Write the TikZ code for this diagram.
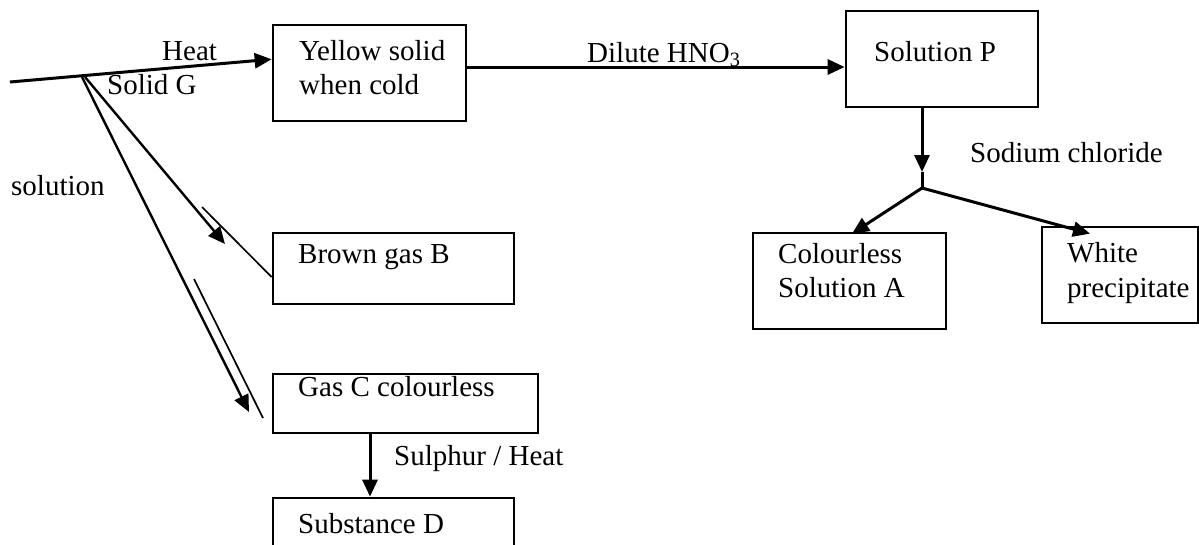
\documentclass[tikz,border=0pt]{standalone}
\usepackage{fontspec}
\setmainfont{Liberation Serif}
\usetikzlibrary{arrows.meta}
\begin{document}
\begin{tikzpicture}[x=1pt,y=-1pt,
  every node/.style={font=\fontsize{29}{34}\selectfont},
  box/.style={draw,line width=2.7pt,inner sep=0pt},
  lbl/.style={anchor=base west,inner sep=0pt},
  arr/.style={line width=3pt,-{Triangle[length=17pt,width=15pt]}},
  thin/.style={line width=1.7pt}]
\clip (0,0) rectangle (1199,544);
% boxes
\node[box,minimum width=193pt,minimum height=96pt] (yellow) at (369.5,73) {};
\node[box,minimum width=192pt,minimum height=96pt] (solp) at (942,59) {};
\node[box,minimum width=193pt,minimum height=96pt] (cola) at (849.5,281) {};
\node[box,minimum width=156pt,minimum height=96pt] (white) at (1120,275) {};
\node[box,minimum width=241pt,minimum height=71pt] (brown) at (393.5,268.5) {};
\node[box,minimum width=265pt,minimum height=59pt] (gasc) at (405.5,403.5) {};
\node[box,minimum width=241pt,minimum height=62pt] (substd) at (393.5,529) {};
% texts
\node[lbl] (yellowt) at (299,60) {Yellow solid};
\node[lbl] (yellowb) at (299,94) {when cold};
\node[lbl] (solpt) at (874,61) {Solution P};
\node[lbl] (colat) at (778,263) {Colourless};
\node[lbl] (colab) at (778,297) {Solution A};
\node[lbl] (whitet) at (1067,262) {White};
\node[lbl] (whiteb) at (1067,297) {precipitate};
\node[lbl] (brownt) at (298,263) {Brown gas B};
\node[lbl] (gasct) at (298,396) {Gas C colourless};
\node[lbl] (substdt) at (298,533) {Substance D};
\node[lbl] (heat) at (162,60) {Heat};
\node[lbl] (solidg) at (107,94) {Solid G};
\node[lbl] (soln) at (11,195) {solution};
\node[lbl] (hno) at (587,62) {Dilute HNO\textsubscript{3}};
\node[lbl] (nacl) at (970,162) {Sodium chloride};
\node[lbl] (sulph) at (394,465) {Sulphur / Heat};
% solid G and its products
\coordinate (gstart) at (10,82);
\coordinate (g1) at (85,77);
\coordinate (g2) at (82,77);
\coordinate (btip) at (225,244);
\coordinate (ctip) at (249,412);
\draw[arr] (gstart) -- (yellow.172);
\draw[arr,line width=2.4pt] (g1) -- (btip);
\draw[arr,line width=2.4pt] (g2) -- (ctip);
\coordinate (bback) at (202,207);
\draw[thin] (bback) -- (brown.184);
\coordinate (cback1) at (194,279);
\coordinate (cback2) at (263,418);
\draw[thin] (cback1) -- (cback2);
\draw[arr] ([xshift=-35.5pt]gasc.south) -- ([xshift=-23.5pt]substd.north);
% solution P branch
\draw[arr] ([yshift=6pt]yellow.east) -- ([yshift=-8pt]solp.west);
\coordinate (split) at (922,188);
\draw[arr] ([xshift=-20pt]solp.south) -- ([yshift=16pt]split);
\draw[line width=3pt] ([yshift=16pt]split) -- (split);
\draw[arr] (split) -- ([xshift=2.5pt,yshift=-2pt]cola.north);
\draw[arr] (split) -- ([xshift=-30pt,yshift=-8pt]white.north);
\end{tikzpicture}
\end{document}
